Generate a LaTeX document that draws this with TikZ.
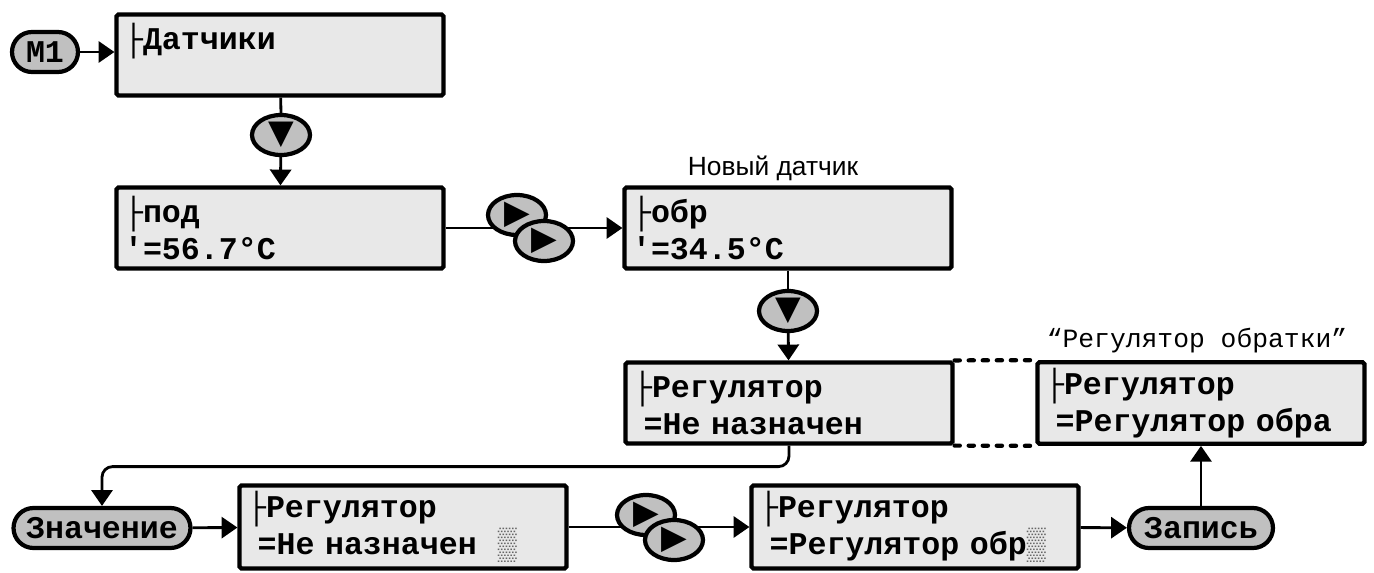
\documentclass[tikz,border=0pt]{standalone}
\usepackage{fontspec}
\setmainfont{Liberation Sans}
\newfontfamily\lcdfont{Liberation Mono}
\newfontfamily\keyfont{DejaVu Sans}
\usetikzlibrary{arrows.meta,shapes.geometric}
\definecolor{lcdgray}{HTML}{E8E8E8}
\definecolor{keygray}{HTML}{C0C0C0}
\def\lcd{\lcdfont\bfseries\fontsize{18}{21}\selectfont}
\def\tee{{\mdseries ├}}
\def\shade{{\mdseries\color{black!60}▒}}

\begin{document}
\begin{tikzpicture}[x=0.02cm,y=-0.02cm,
  lcd/.style={draw,line width=2.4pt,fill=lcdgray,rounded corners=1pt,minimum width=6.54cm,minimum height=1.62cm,text width=6.24cm,inner xsep=0.15cm,align=left,font=\lcd},
  pill/.style={draw,line width=2.4pt,fill=keygray,rounded corners=0.4cm,minimum height=0.8cm,inner xsep=0.1cm,font=\lcd},
  key/.style={draw,line width=2.4pt,fill=keygray,ellipse,minimum width=1.16cm,minimum height=0.8cm,inner sep=0pt,font=\keyfont\fontsize{19}{19}\selectfont},
  wire/.style={line width=1.6pt},
  arr/.style={wire,-{Triangle[length=9pt,width=12pt]}},
  dots/.style={line width=2.4pt,line cap=round,dash pattern=on 3pt off 5pt}]
\useasboundingbox (0,0) rectangle (1374,572);
\node[pill,minimum width=1.32cm] (m1) at (45,52) {M1};
\node[lcd] (sens) at (280,55) {\tee Датчики\\\mbox{}};
\node[lcd] (pod) at (280,228) {\tee под\\′=56.7°C};
\node[lcd] (obr) at (788,228) {\tee обр\\′=34.5°C};
\node (newl) at (773,168) {\fontsize{15}{18}\selectfont Новый датчик};
\node[lcd] (reg) at (789,403) {\tee Регулятор\\~=Не назначен};
\node[lcd] (rego) at (1201,403) {\tee Регулятор\\~=Регулятор обра};
\node (regl) at (1197,341) {\lcdfont\fontsize{15}{18}\selectfont “Регулятор обратки”};
\node[pill,minimum width=3.54cm] (val) at (102,528) {Значение};
\node[lcd] (edit) at (403,527) {\tee Регулятор\\~=Не назначен~~\shade};
\node[lcd] (edito) at (915,527) {\tee Регулятор\\~=Регулятор обр\shade};
\node[pill,minimum width=2.88cm] (save) at (1201,528) {Запись};
\draw[arr] (m1) -- (m1 -| sens.west);
\draw[wire] (sens) -- (281,115);
\node[key] (dn1) at (281,135) {▼};
\draw[arr] (dn1) -- (pod);
\draw[arr] (pod) -- (obr);
\node[key] (rt1) at (517,215) {▶};
\node[key] (rt2) at (544,241) {▶};
\draw[wire] (obr) -- (788,290);
\node[key] (dn2) at (788,311) {▼};
\draw[arr] (dn2) -- (reg);
\draw[dots] (reg.north east) -- (rego.north west);
\draw[dots] (reg.south east) -- (rego.south west);
\draw[arr,rounded corners=6pt] (reg.south) -- ++(0,21) -| (val.north);
\draw[arr] (val) -- (edit);
\draw[arr] (edit) -- (edito);
\node[key] (rt3) at (646,515) {▶};
\node[key] (rt4) at (674,540) {▶};
\draw[arr] (edito) -- (save);
\draw[arr] (save) -- (save |- rego.south);
\end{tikzpicture}
\end{document}
